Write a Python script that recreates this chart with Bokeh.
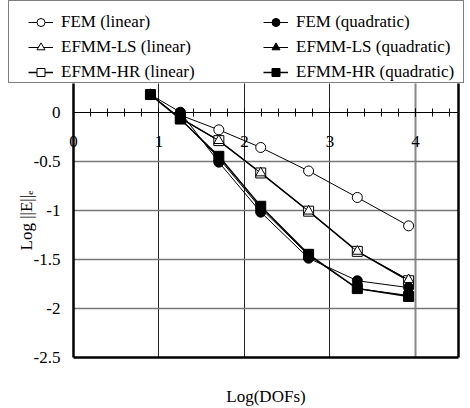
from bokeh.plotting import figure
from bokeh.models import (ColumnDataSource, FixedTicker, LinearAxis, Legend, LegendItem,
                          Range1d, Grid)
from bokeh.embed import file_html
from bokeh.resources import INLINE
import numpy as np

# ---------------- data ----------------
x_linear = [1.25, 1.70, 2.19, 2.75, 3.32, 3.92]
fem_linear = [-0.03, -0.18, -0.36, -0.60, -0.87, -1.16]
efmm_ls_linear = [-0.06, -0.29, -0.62, -1.01, -1.42, -1.71]
efmm_hr_linear = [-0.06, -0.29, -0.62, -1.01, -1.42, -1.72]

x_quad = [0.90, 1.25, 1.70, 2.19, 2.75, 3.32, 3.92]
fem_quad = [0.18, 0.00, -0.51, -1.02, -1.49, -1.72, -1.79]
efmm_ls_quad = [0.18, -0.06, -0.47, -0.98, -1.46, -1.80, -1.87]
efmm_hr_quad = [0.18, -0.07, -0.45, -0.96, -1.45, -1.80, -1.88]

x_ticks = [0, 1, 2, 3, 4]
x_tick_labels = ["0", "1", "2", "3", "4"]
y_ticks = [-2.5, -2, -1.5, -1, -0.5, 0]
y_tick_labels = ["-2.5", "-2", "-1.5", "-1", "-0.5", "0"]

X_MIN, X_MAX = 0, 4.5
Y_MIN, Y_MAX = -2.5, 0.29

FONT = "Liberation Serif"
FS = "17px"

# name -> x, y, marker, fill, line width (drawing order)
series = {
    "FEM (linear)": (x_linear, fem_linear, "circle", "white", 1),
    "EFMM-HR (linear)": (x_linear, efmm_hr_linear, "square", "white", 1.5),
    "EFMM-LS (linear)": (x_linear, efmm_ls_linear, "triangle", "white", 1),
    "FEM (quadratic)": (x_quad, fem_quad, "circle", "black", 1),
    "EFMM-LS (quadratic)": (x_quad, efmm_ls_quad, "triangle", "black", 1),
    "EFMM-HR (quadratic)": (x_quad, efmm_hr_quad, "square", "black", 1.5),
}
SIZE = 10

W, H = 470, 408
# plot area in canvas pixels: left 73, right 457.7, y=0 at 111.7, y=-2.5 at 356.7
px_x = (457.7 - 73) / (X_MAX - X_MIN)
px_y = (356.7 - 111.7) / 2.5
x_range = Range1d(-73 / px_x, X_MAX + (W - 457.7) / px_x)
y_range = Range1d(-(H - 111.7) / px_y, 111.7 / px_y)

p = figure(width=W, height=H, x_range=x_range, y_range=y_range,
           x_axis_type=None, y_axis_type=None,
           output_backend="svg", toolbar_location=None, min_border=0,
           background_fill_color="white", border_fill_color="white")
p.outline_line_color = None

# grids limited to the plot area
inner_x = [t for t in x_ticks if X_MIN < t < x_ticks[-1]]
gx = Grid(dimension=0, ticker=FixedTicker(ticks=inner_x),
          cross_bounds=(Y_MIN, Y_MAX), grid_line_color="#222222", grid_line_width=1)
gx4 = Grid(dimension=0, ticker=FixedTicker(ticks=[x_ticks[-1]]),
           cross_bounds=(Y_MIN, Y_MAX), grid_line_color="#888888", grid_line_width=2)
gy = Grid(dimension=1, ticker=FixedTicker(ticks=[t for t in y_ticks if Y_MIN < t < 0]),
          cross_bounds=(X_MIN, X_MAX), grid_line_color="#777777", grid_line_width=1.5)
p.add_layout(gx)
p.add_layout(gx4)
p.add_layout(gy)

# y axis (left border of the plot area)
ya = LinearAxis(fixed_location=X_MIN, bounds=(Y_MIN, Y_MAX),
                ticker=FixedTicker(ticks=y_ticks),
                major_label_overrides={t: l for t, l in zip(y_ticks, y_tick_labels)})
ya.major_tick_in = 0
ya.major_tick_out = 0
ya.minor_tick_line_color = None
ya.axis_line_width = 2.5
ya.axis_line_color = "black"
ya.major_label_standoff = 13
ya.major_label_text_font = FONT
ya.major_label_text_font_size = FS
ya.major_label_text_color = "black"
ya.axis_label = "Log ||E||ₑ"
ya.axis_label_text_font = FONT
ya.axis_label_text_font_size = FS
ya.axis_label_text_font_style = "normal"
ya.axis_label_text_color = "black"
ya.axis_label_standoff = -5
p.add_layout(ya, "left")

# right border of the plot area
yr = LinearAxis(fixed_location=X_MAX, bounds=(Y_MIN, Y_MAX), ticker=FixedTicker(ticks=[]))
yr.axis_line_width = 2.5
yr.axis_line_color = "black"
yr.major_tick_line_color = None
yr.minor_tick_line_color = None
p.add_layout(yr, "right")

# bottom border with the axis title
xb = LinearAxis(fixed_location=Y_MIN, bounds=(X_MIN, X_MAX), ticker=FixedTicker(ticks=[]))
xb.axis_line_width = 2.5
xb.axis_line_color = "black"
xb.major_tick_line_color = None
xb.minor_tick_line_color = None
xb.major_tick_out = 0
xb.minor_tick_out = 0
xb.major_label_standoff = 0
xb.axis_label = "Log(DOFs)"
xb.axis_label_text_font = FONT
xb.axis_label_text_font_size = FS
xb.axis_label_text_font_style = "normal"
xb.axis_label_text_color = "black"
xb.axis_label_standoff = 29
p.add_layout(xb, "below")

# x axis crossing at y = 0
minor = [float(v) for v in np.round(np.arange(X_MIN, X_MAX + 1e-6, 0.2), 1)]
fx = LinearAxis(fixed_location=0, bounds=(X_MIN, X_MAX),
                ticker=FixedTicker(ticks=x_ticks, minor_ticks=minor),
                major_label_overrides={t: l for t, l in zip(x_ticks, x_tick_labels)})
fx.axis_line_color = "black"
fx.axis_line_width = 1
fx.major_tick_in = 4
fx.major_tick_out = 4
fx.minor_tick_in = 4
fx.minor_tick_out = 4
fx.major_tick_line_color = "black"
fx.minor_tick_line_color = "black"
fx.major_label_standoff = 20
fx.major_label_text_font = FONT
fx.major_label_text_font_size = FS
fx.major_label_text_color = "black"
p.add_layout(fx, "below")

renderers = {}
for name, (xs, ys, marker, fill, lw) in series.items():
    src = ColumnDataSource(dict(x=xs, y=ys))
    rl = p.line("x", "y", source=src, line_color="black", line_width=lw)
    rs = p.scatter("x", "y", source=src, marker=marker, size=SIZE,
                   fill_color=fill, line_color="black", line_width=1)
    renderers[name] = [rl, rs]

# legend box (frame only)
invisible = p.line(x_quad, fem_quad, line_alpha=0)
box = Legend(items=[LegendItem(label=" ", renderers=[invisible])],
             location=(8, H - 83), padding=0, margin=0,
             glyph_width=1, glyph_height=81, label_height=81, label_width=453,
             label_standoff=0, border_line_color="black", border_line_width=1,
             background_fill_color="white", background_fill_alpha=1,
             label_text_font_size="1px")
p.add_layout(box)

col1 = ["FEM (linear)", "EFMM-LS (linear)", "EFMM-HR (linear)"]
col2 = ["FEM (quadratic)", "EFMM-LS (quadratic)", "EFMM-HR (quadratic)"]

for names, xloc in ((col1, 28), (col2, 263)):
    leg = Legend(items=[LegendItem(label=n, renderers=renderers[n]) for n in names],
                 location=(xloc, H - 82),
                 padding=0, margin=0, spacing=5, label_height=20, glyph_height=20,
                 glyph_width=25, label_standoff=8,
                 border_line_alpha=0, background_fill_alpha=0,
                 label_text_font=FONT, label_text_font_size=FS, label_text_color="black")
    p.add_layout(leg)

open("out.html", "w").write(file_html(p, INLINE))
